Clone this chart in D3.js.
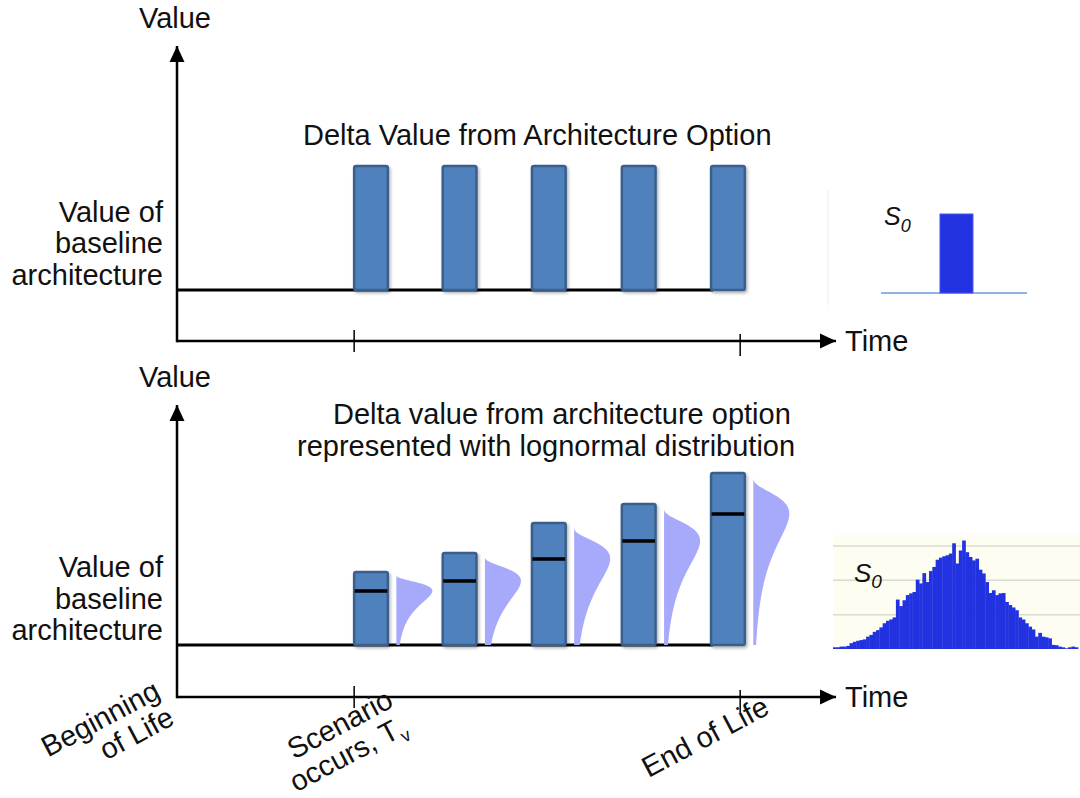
<!DOCTYPE html>
<meta charset="utf-8">
<style>
  body { margin: 0; background: #fff; }
  svg text { font-family: "Liberation Sans", Arial, sans-serif; fill: #111; }
  .label { font-size: 29px; }
  .axis { stroke: #000; stroke-width: 2.5; fill: none; }
  .tick { stroke: #000; stroke-width: 1.5; }
  .baseline { stroke: #000; stroke-width: 3; }
  .bar { fill: #4f81bd; stroke: #3b5f8c; stroke-width: 2.5; }
  .meanline { stroke: #000; stroke-width: 3.5; }
  .lognorm { fill: #a7a9fb; }
  .hist { fill: #2232e0; }
  .grid { stroke: #dadad0; stroke-width: 1.5; }
  .italic { font-style: italic; }
</style>
<svg width="1080" height="798"></svg>
<script src="https://cdn.jsdelivr.net/npm/d3@7"></script>
<script>

////////////////////
// DATA

// time positions (0..100 along the Time axis) of the five option bars
const barTimes = [26.8, 40.2, 53.7, 67.3, 80.8];
const barWidthT = 5.1;
const timeTicks = [26.8, 85.2];

// top panel: fixed delta value
const topBaseline = 17.3;
const topBarValues = [59.3, 59.3, 59.3, 59.3, 59.3];

// bottom panel: delta value with lognormal spread
const botBaseline = 17.8;
const botBarValues = [42.8, 49.3, 59.6, 66.1, 76.7];
const botMeanValues = [36.3, 39.7, 47.3, 53.4, 62.7];

// S0 histogram (bottom right)
const s0Counts = [5, 5, 7, 7, 9, 17, 21, 24, 26, 28, 36, 41, 50, 55, 63, 75, 82, 86, 92, 144,
  125, 142, 157, 162, 166, 202, 191, 221, 195, 227, 239, 260, 266, 270, 273, 278, 308, 249, 287, 316,
  282, 268, 258, 263, 231, 220, 195, 163, 171, 157, 162, 163, 137, 128, 121, 113, 92, 86, 75, 65,
  57, 36, 47, 36, 34, 31, 12, 11, 7, 5, 2, 5, 7, 5];
const histGrid = [100, 200, 300];

// S0 fixed value (top right)
const s0Fixed = [{x0: 4.04, x1: 6.3, v: 1}];

const svg = d3.select("svg");
const defs = svg.append("defs");

defs.append("marker")
  .attr("id", "arrow")
  .attr("viewBox", "0 0 16 16")
  .attr("refX", 16).attr("refY", 8)
  .attr("markerWidth", 16).attr("markerHeight", 16)
  .attr("markerUnits", "userSpaceOnUse")
  .attr("orient", "auto")
  .append("path")
  .attr("d", "M0,0.5L16,8L0,15.5Z")
  .attr("fill", "#000");

defs.append("filter")
  .attr("id", "shadow")
  .attr("x", "-30%").attr("y", "-10%").attr("width", "160%").attr("height", "130%")
  .append("feDropShadow")
  .attr("dx", 1.5).attr("dy", 2).attr("stdDeviation", 1.5)
  .attr("flood-color", "#000").attr("flood-opacity", 0.3);

////////////////////
// SCALES

const x = d3.scaleLinear().domain([0, 100]).range([177, 838]);
const yTop = d3.scaleLinear().domain([0, 100]).range([341, 46]);
const yBot = d3.scaleLinear().domain([0, 100]).range([697, 405]);

////////////////////
// PANELS

function drawPanel(y, baseline, barValues) {
  const g = svg.append("g");

  g.append("line").attr("class", "axis")
    .attr("x1", x(0)).attr("x2", x(100) - 2)
    .attr("y1", y(0)).attr("y2", y(0))
    .attr("marker-end", "url(#arrow)");
  g.append("line").attr("class", "axis")
    .attr("x1", x(0)).attr("x2", x(0))
    .attr("y1", y(0) + 1.2).attr("y2", y(100))
    .attr("marker-end", "url(#arrow)");

  g.selectAll(".tick").data(timeTicks).join("line")
    .attr("class", "tick")
    .attr("x1", d => x(d)).attr("x2", d => x(d))
    .attr("y1", (d, i) => y(0) - 11 + i * 4)
    .attr("y2", (d, i) => y(0) + 11 + i * 4);

  g.append("text").attr("class", "label")
    .attr("x", x(100) + 7).attr("y", y(0) + 10)
    .text("Time");
  g.append("text").attr("class", "label")
    .attr("x", x(0) - 2).attr("y", y(100) - 18)
    .attr("text-anchor", "middle")
    .text("Value");

  const yl = g.append("text").attr("class", "label")
    .attr("text-anchor", "end")
    .attr("transform", `translate(163, ${y(baseline) - 68})`);
  ["Value of", "baseline", "architecture"].forEach((t, i) => {
    yl.append("tspan").attr("x", 0).attr("dy", i ? 31.5 : 0).text(t);
  });

  g.append("line").attr("class", "baseline")
    .attr("x1", x(0)).attr("x2", x(barTimes[barTimes.length - 1]) + 2)
    .attr("y1", y(baseline)).attr("y2", y(baseline));

  g.selectAll(".bar").data(barTimes).join("rect")
    .attr("class", "bar")
    .attr("filter", "url(#shadow)")
    .attr("rx", 2)
    .attr("x", d => x(d))
    .attr("width", d => x(d + barWidthT) - x(d))
    .attr("y", (d, i) => y(barValues[i]))
    .attr("height", (d, i) => y(baseline) - y(barValues[i]));

  return g;
}

const gTop = drawPanel(yTop, topBaseline, topBarValues);
gTop.append("text").attr("class", "label")
  .attr("x", 303).attr("y", 145)
  .text("Delta Value from Architecture Option");

const gBot = drawPanel(yBot, botBaseline, botBarValues);
gBot.append("text").attr("class", "label")
  .attr("x", 333).attr("y", 424)
  .text("Delta value from architecture option");
gBot.append("text").attr("class", "label")
  .attr("x", 297).attr("y", 456)
  .text("represented with lognormal distribution");

gBot.selectAll(".meanline").data(barTimes).join("line")
  .attr("class", "meanline")
  .attr("x1", d => x(d) + 0.5).attr("x2", d => x(d + barWidthT) - 0.5)
  .attr("y1", (d, i) => yBot(botMeanValues[i]))
  .attr("y2", (d, i) => yBot(botMeanValues[i]));

// lognormal spread beside each bar (long tail toward the baseline)
const sigma = 0.65, peakW = 36, gap = 8.5;
function lognormalShape(top, mode, base) {
  const span = top - base, um = top - mode;
  const mu = Math.log(um) + sigma * sigma;
  const pdf = u => u <= 0 ? 0 : Math.exp(-Math.pow(Math.log(u) - mu, 2) / (2 * sigma * sigma)) / u;
  const peak = pdf(um);
  return d3.range(0, 121).map(k => {
    const u = span * k / 120;
    return {v: top - u, w: pdf(u) / peak};
  });
}

barTimes.forEach((t, i) => {
  const left = x(t + barWidthT) + gap;
  const pts = lognormalShape(botBarValues[i] - 0.6, botMeanValues[i], botBaseline);
  const area = d3.area()
    .y(d => yBot(d.v))
    .x0(left)
    .x1(d => left + peakW * d.w)
    .curve(d3.curveMonotoneY);
  gBot.append("path").attr("class", "lognorm").attr("d", area(pts));
});

////////////////////
// TIME LABELS (rotated)

const rotLabels = [
  {x: 162, y: 697, lines: ["Beginning", "of Life"]},
  {x: 395, y: 706, lines: ["Scenario", "occurs, T"], sub: "v"},
  {x: 771, y: 713, lines: ["End of Life"]}
];

rotLabels.forEach(d => {
  const t = svg.append("text").attr("class", "label")
    .attr("text-anchor", "end")
    .attr("transform", `translate(${d.x}, ${d.y}) rotate(-28)`);
  d.lines.forEach((l, i) => {
    const ts = t.append("tspan").attr("x", 0).attr("dy", i ? 30 : 0);
    if (d.sub && i === d.lines.length - 1) {
      ts.text(l).append("tspan").attr("dy", 7).attr("font-size", 18).text(d.sub);
    } else {
      ts.text(l);
    }
  });
});

////////////////////
// INSETS

// top: single value
const sx = d3.scaleLinear().domain([0, 10]).range([881, 1027]);
const sy = d3.scaleLinear().domain([0, 1]).range([293, 214]);

svg.append("line")
  .attr("x1", 828).attr("x2", 828).attr("y1", 190).attr("y2", 305)
  .attr("stroke", "#f3f3f3").attr("stroke-width", 1.5);

svg.append("line")
  .attr("x1", sx(0)).attr("x2", sx(10)).attr("y1", sy(0)).attr("y2", sy(0))
  .attr("stroke", "#8db4e2").attr("stroke-width", 2);

svg.selectAll(".s0bar").data(s0Fixed).join("rect")
  .attr("class", "hist")
  .attr("stroke", "#4857ee").attr("stroke-width", 1)
  .attr("x", d => sx(d.x0)).attr("width", d => sx(d.x1) - sx(d.x0))
  .attr("y", d => sy(d.v)).attr("height", d => sy(0) - sy(d.v));

const s0a = svg.append("text").attr("class", "italic")
  .attr("x", 884).attr("y", 225).attr("font-size", 25).text("S");
s0a.append("tspan").attr("dy", 7).attr("font-size", 18).text("0");

// bottom: histogram
const hx = d3.scaleBand().domain(d3.range(s0Counts.length)).range([833, 1078]);
const hy = d3.scaleLinear().domain([0, 300]).range([649, 546]);

svg.append("rect")
  .attr("x", 833).attr("y", 535).attr("width", 247).attr("height", 117)
  .attr("fill", "#fdfdf1");

svg.selectAll(".grid").data(histGrid).join("line")
  .attr("class", "grid")
  .attr("x1", 833).attr("x2", 1080)
  .attr("y1", d => hy(d)).attr("y2", d => hy(d));

svg.selectAll(".hbar").data(s0Counts).join("rect")
  .attr("class", "hist")
  .attr("x", (d, i) => hx(i))
  .attr("width", hx.bandwidth() + 0.4)
  .attr("y", d => hy(d))
  .attr("height", d => hy(0) - hy(d));

const s0b = svg.append("text").attr("class", "italic")
  .attr("x", 854).attr("y", 582).attr("font-size", 26).text("S");
s0b.append("tspan").attr("dy", 6).attr("font-size", 19).text("0");

</script>
